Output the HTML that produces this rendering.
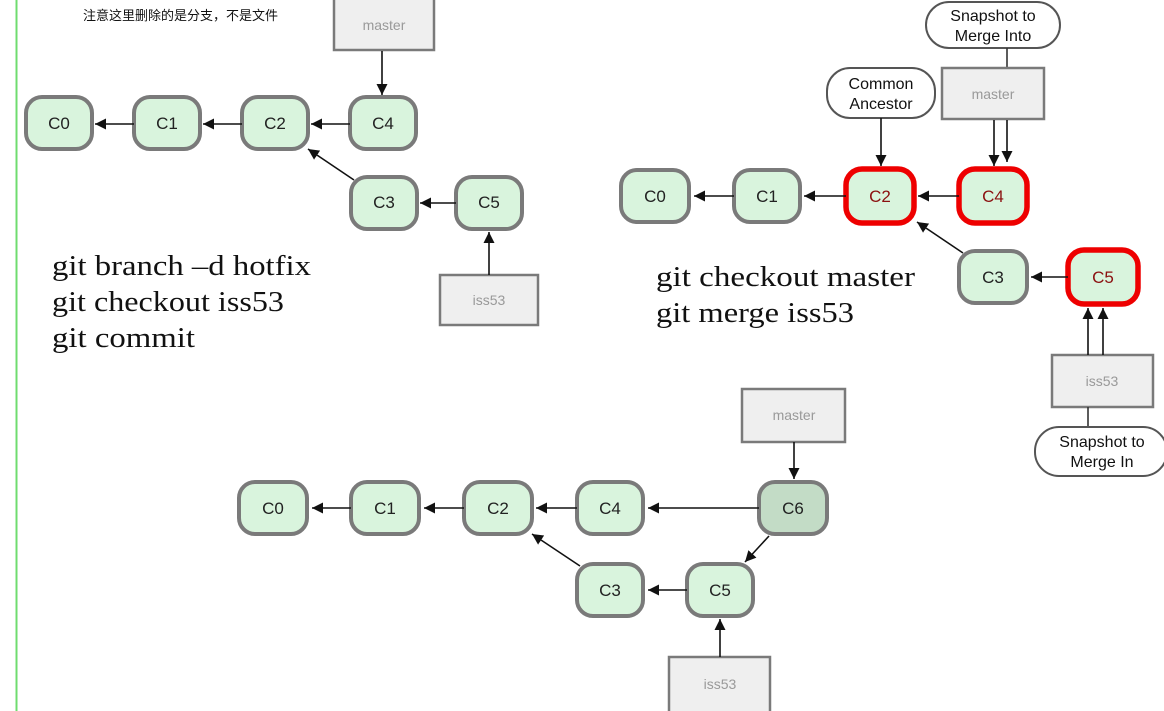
<!DOCTYPE html>
<html><head><meta charset="utf-8"><style>
html,body{margin:0;padding:0;background:#fff;width:1164px;height:711px;overflow:hidden}
svg{display:block}
.n{fill:#d9f4dd;stroke:#7a7a7a;stroke-width:4}
.r{fill:#d9f4dd;stroke:#ee0000;stroke-width:5.5}
.t{font-family:"Liberation Sans",sans-serif;font-size:17px;fill:#222;text-anchor:middle;font-weight:500}
.tr{font-family:"Liberation Sans",sans-serif;font-size:17px;fill:#8b1010;text-anchor:middle}
.b{fill:#efefef;stroke:#7a7a7a;stroke-width:2.5}
.bt{font-family:"Liberation Sans",sans-serif;font-size:14px;fill:#999;text-anchor:middle}
.l{stroke:#111;stroke-width:1.6;fill:none;marker-end:url(#a)}
.p{fill:#fff;stroke:#555;stroke-width:2}
.pt{font-family:"Liberation Sans",sans-serif;font-size:16px;fill:#111;text-anchor:middle}
.g{font-family:"Liberation Serif",serif;font-size:29px;fill:#111}
</style></head><body>
<svg width="1164" height="711" viewBox="0 0 1164 711" xmlns="http://www.w3.org/2000/svg">
<defs><marker id="a" markerWidth="12" markerHeight="12" refX="11" refY="5.5" orient="auto" markerUnits="userSpaceOnUse"><path d="M0,0 L11,5.5 L0,11 z" fill="#111"/></marker></defs>
<line x1="16.5" y1="0" x2="16.5" y2="711" stroke="#6fdc6f" stroke-width="2"/>
<text x="83" y="20" font-family="'Liberation Sans','Noto Sans CJK SC',sans-serif" font-size="13" fill="#111">注意这里删除的是分支，不是文件</text>

<!-- top-left -->
<rect class="b" x="334" y="-2" width="100" height="52"/><text class="bt" x="384" y="30">master</text>
<line class="l" x1="382" y1="51" x2="382" y2="95"/>
<rect class="n" x="26" y="97" width="66" height="52" rx="16"/><text class="t" x="59" y="129">C0</text>
<rect class="n" x="134" y="97" width="66" height="52" rx="16"/><text class="t" x="167" y="129">C1</text>
<rect class="n" x="242" y="97" width="66" height="52" rx="16"/><text class="t" x="275" y="129">C2</text>
<rect class="n" x="350" y="97" width="66" height="52" rx="16"/><text class="t" x="383" y="129">C4</text>
<rect class="n" x="351" y="177" width="66" height="52" rx="16"/><text class="t" x="384" y="208">C3</text>
<rect class="n" x="456" y="177" width="66" height="52" rx="16"/><text class="t" x="489" y="208">C5</text>
<line class="l" x1="134" y1="124" x2="95" y2="124"/>
<line class="l" x1="242" y1="124" x2="203" y2="124"/>
<line class="l" x1="350" y1="124" x2="311" y2="124"/>
<line class="l" x1="456" y1="203" x2="420" y2="203"/>
<line class="l" x1="354" y1="180" x2="308" y2="149"/>
<rect class="b" x="440" y="275" width="98" height="50"/><text class="bt" x="489" y="305">iss53</text>
<line class="l" x1="489" y1="275" x2="489" y2="232"/>
<text class="g" x="52" y="275" textLength="259" lengthAdjust="spacingAndGlyphs">git branch –d hotfix</text>
<text class="g" x="52" y="311" textLength="232" lengthAdjust="spacingAndGlyphs">git checkout iss53</text>
<text class="g" x="52" y="347" textLength="143" lengthAdjust="spacingAndGlyphs">git commit</text>

<!-- top-right -->
<rect class="p" x="926" y="2" width="134" height="46" rx="23"/>
<text class="pt" x="993" y="21">Snapshot to</text><text class="pt" x="993" y="41">Merge Into</text>
<line x1="1007" y1="48" x2="1007" y2="67" stroke="#333" stroke-width="1.6"/>
<rect class="p" x="827" y="68" width="108" height="50" rx="23"/>
<text class="pt" x="881" y="89">Common</text><text class="pt" x="881" y="109">Ancestor</text>
<line class="l" x1="881" y1="118" x2="881" y2="166"/>
<rect class="b" x="942" y="68" width="102" height="51"/><text class="bt" x="993" y="99">master</text>
<line class="l" x1="994" y1="120" x2="994" y2="166"/>
<line class="l" x1="1007" y1="120" x2="1007" y2="162"/>
<rect class="n" x="621" y="170" width="68" height="52" rx="16"/><text class="t" x="655" y="202">C0</text>
<rect class="n" x="734" y="170" width="66" height="52" rx="16"/><text class="t" x="767" y="202">C1</text>
<rect class="r" x="846" y="169" width="68" height="54" rx="16"/><text class="tr" x="880" y="202">C2</text>
<rect class="r" x="959" y="169" width="68" height="54" rx="16"/><text class="tr" x="993" y="202">C4</text>
<rect class="n" x="959" y="251" width="68" height="52" rx="16"/><text class="t" x="993" y="283">C3</text>
<rect class="r" x="1068" y="250" width="70" height="54" rx="16"/><text class="tr" x="1103" y="283">C5</text>
<line class="l" x1="734" y1="196" x2="694" y2="196"/>
<line class="l" x1="846" y1="196" x2="804" y2="196"/>
<line class="l" x1="959" y1="196" x2="918" y2="196"/>
<line class="l" x1="1068" y1="277" x2="1031" y2="277"/>
<line class="l" x1="963" y1="253" x2="917" y2="222"/>
<rect class="b" x="1052" y="355" width="101" height="52"/><text class="bt" x="1102" y="386">iss53</text>
<line class="l" x1="1088" y1="355" x2="1088" y2="308"/>
<line class="l" x1="1103" y1="355" x2="1103" y2="308"/>
<line x1="1088" y1="407" x2="1088" y2="427" stroke="#333" stroke-width="1.6"/>
<rect class="p" x="1035" y="427" width="132" height="49" rx="24"/>
<text class="pt" x="1102" y="447">Snapshot to</text><text class="pt" x="1102" y="467">Merge In</text>
<text class="g" x="656" y="286" textLength="259" lengthAdjust="spacingAndGlyphs">git checkout master</text>
<text class="g" x="656" y="322" textLength="198" lengthAdjust="spacingAndGlyphs">git merge iss53</text>

<!-- bottom -->
<rect class="b" x="742" y="389" width="103" height="53"/><text class="bt" x="794" y="420">master</text>
<line class="l" x1="794" y1="442" x2="794" y2="479"/>
<rect class="n" x="239" y="482" width="68" height="52" rx="16"/><text class="t" x="273" y="514">C0</text>
<rect class="n" x="351" y="482" width="68" height="52" rx="16"/><text class="t" x="385" y="514">C1</text>
<rect class="n" x="464" y="482" width="68" height="52" rx="16"/><text class="t" x="498" y="514">C2</text>
<rect class="n" x="577" y="482" width="66" height="52" rx="16"/><text class="t" x="610" y="514">C4</text>
<rect class="n" x="759" y="482" width="68" height="52" rx="16" style="fill:#c3dcc6"/><text class="t" x="793" y="514">C6</text>
<rect class="n" x="577" y="564" width="66" height="52" rx="16"/><text class="t" x="610" y="596">C3</text>
<rect class="n" x="687" y="564" width="66" height="52" rx="16"/><text class="t" x="720" y="596">C5</text>
<line class="l" x1="351" y1="508" x2="312" y2="508"/>
<line class="l" x1="464" y1="508" x2="424" y2="508"/>
<line class="l" x1="577" y1="508" x2="536" y2="508"/>
<line class="l" x1="759" y1="508" x2="648" y2="508"/>
<line class="l" x1="687" y1="590" x2="648" y2="590"/>
<line class="l" x1="580" y1="566" x2="532" y2="534"/>
<line class="l" x1="769" y1="536" x2="745" y2="562"/>
<rect class="b" x="669" y="657" width="101" height="56"/><text class="bt" x="720" y="689">iss53</text>
<line class="l" x1="720" y1="657" x2="720" y2="619"/>
</svg>
</body></html>
